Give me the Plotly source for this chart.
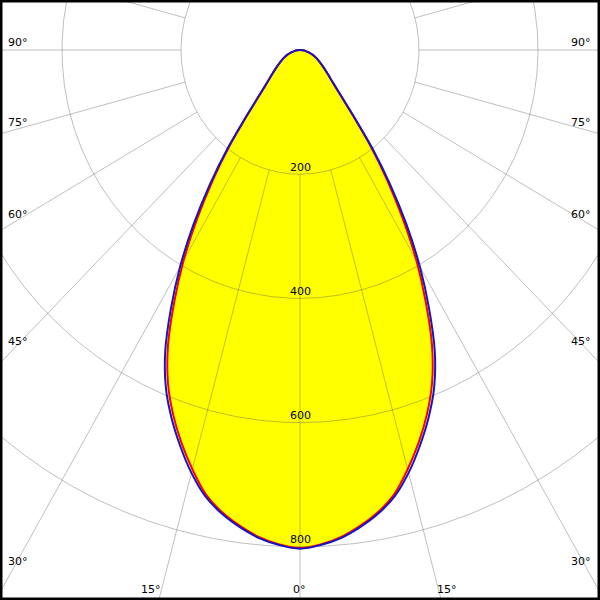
import numpy as np
import plotly.graph_objects as go

# ---- data (luminous intensity, cd/klm) ----
angles = [0, 2.5, 5, 7.5, 10, 12.5, 15, 17.5, 20, 22.5, 25, 27.5, 30, 32.5, 35,
          37.5, 40, 42.5, 45, 47.5, 50, 55, 60, 65, 70, 75, 80, 85, 90]
intensity_c90 = [803, 798, 789, 775, 758, 736, 705, 669, 631, 589, 536, 470, 403, 333, 264,
                 200, 144, 108, 86, 72, 62, 48, 38, 30, 23, 16, 10, 5, 0]
intensity_c0 = [802, 797, 787.5, 773, 755.5, 732.5, 699, 663, 624, 580, 525, 458, 391, 321, 255,
                194, 140, 105, 84, 71, 62, 48, 38, 30, 23, 16, 10, 5, 0]
ring_values = [200, 400, 600, 800]
ring_labels = ["200", "400", "600", "800"]
spoke_angles = list(range(-180, 181, 15))
angle_labels = ["90°", "75°", "60°", "45°", "30°", "15°", "0°", "15°", "30°", "45°", "60°", "75°", "90°"]

# ---- layout constants (pixels) ----
W = H = 600
CX, CY = 300, 50          # pole position in pixels
SX, SY = 0.595, 0.621     # px per cd horizontally / vertically
label_px = [(18, 42), (18, 122), (18, 214), (18, 342), (18, 561), (151, 589), (299, 589),
            (447, 589), (581, 561), (581, 342), (581, 214), (581, 122), (581, 42)]

xr = [-CX / SX, (W - CX) / SX]
yr = [-(H - CY) / SY, CY / SY]


def curve(vals):
    a = np.radians(np.array(angles, dtype=float))
    r = np.array(vals, dtype=float)
    th = np.concatenate([-a[::-1], a[1:]])
    rr = np.concatenate([r[::-1], r[1:]])
    return rr * np.sin(th), -rr * np.cos(th)


fig = go.Figure()

# yellow fill
fx, fy = curve(intensity_c0)
fig.add_trace(go.Scatter(x=fx, y=fy, mode="lines", fill="toself", fillcolor="#ffff00",
                         line=dict(width=0, color="#ffff00", shape="spline"), hoverinfo="skip"))

grid_col = "rgba(95,95,95,0.40)"
t = np.radians(np.linspace(0, 360, 721))
for rv in ring_values:
    fig.add_trace(go.Scatter(x=rv * np.sin(t), y=-rv * np.cos(t), mode="lines",
                             line=dict(color=grid_col, width=1), hoverinfo="skip"))
for sa in spoke_angles:
    a = np.radians(sa)
    r0, r1 = ring_values[0], 1400
    fig.add_trace(go.Scatter(x=[r0 * np.sin(a), r1 * np.sin(a)], y=[-r0 * np.cos(a), -r1 * np.cos(a)],
                             mode="lines", line=dict(color=grid_col, width=1), hoverinfo="skip"))

# curves
fig.add_trace(go.Scatter(x=fx, y=fy, mode="lines",
                         line=dict(color="#ff0000", width=2, shape="spline"), hoverinfo="skip"))
bx, by = curve(intensity_c90)
fig.add_trace(go.Scatter(x=bx, y=by, mode="lines",
                         line=dict(color="#1414c8", width=2, shape="spline"), hoverinfo="skip"))

font = dict(family="DejaVu Sans", size=11, color="black")
ann = []
for rv, lab in zip(ring_values, ring_labels):
    ann.append(dict(x=0, y=-rv, xref="x", yref="y", text=lab, showarrow=False,
                    yshift=7, xanchor="center", yanchor="middle", font=font))
for lab, (px, py) in zip(angle_labels, label_px):
    ann.append(dict(x=px / W, y=1 - py / H, xref="paper", yref="paper", text=lab, showarrow=False,
                    xanchor="center", yanchor="middle", font=font))

fig.update_layout(
    width=W, height=H, margin=dict(l=0, r=0, t=0, b=0),
    paper_bgcolor="white", plot_bgcolor="white", showlegend=False,
    xaxis=dict(range=xr, visible=False, fixedrange=True),
    yaxis=dict(range=yr, visible=False, fixedrange=True),
    annotations=ann,
    shapes=[dict(type="rect", xref="paper", yref="paper", x0=0, y0=0, x1=1, y1=1,
                 line=dict(color="black", width=5))],
)

fig.write_html("out.html", config={"displayModeBar": False},
               post_script="document.body.style.margin='0px';document.body.style.overflow='hidden';")
